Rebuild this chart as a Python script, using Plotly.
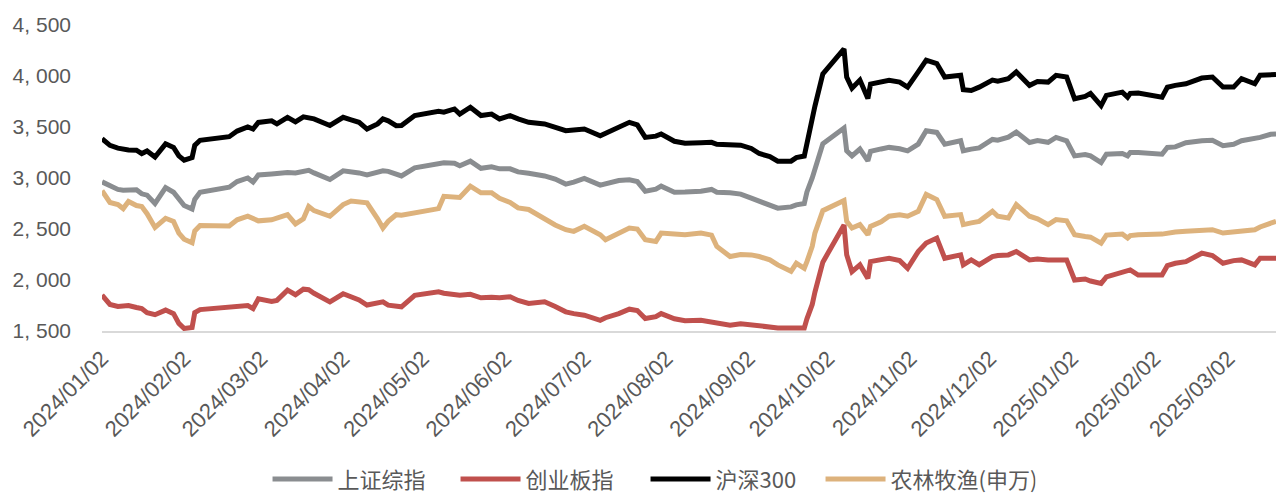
import plotly.graph_objects as go

dates = [
    "2024-01-02", "2024-01-05", "2024-01-08", "2024-01-10", "2024-01-12", "2024-01-15", "2024-01-17",
    "2024-01-19", "2024-01-22", "2024-01-26", "2024-01-29", "2024-01-31", "2024-02-02", "2024-02-05",
    "2024-02-06", "2024-02-08", "2024-02-19", "2024-02-22", "2024-02-26", "2024-02-28", "2024-03-01",
    "2024-03-06", "2024-03-08", "2024-03-12", "2024-03-15", "2024-03-18", "2024-03-20", "2024-03-22",
    "2024-03-28", "2024-04-02", "2024-04-05", "2024-04-08", "2024-04-11", "2024-04-15", "2024-04-17",
    "2024-04-19", "2024-04-22", "2024-04-24", "2024-04-29", "2024-05-08", "2024-05-10", "2024-05-14",
    "2024-05-16", "2024-05-20", "2024-05-24", "2024-05-28", "2024-05-31", "2024-06-04", "2024-06-07",
    "2024-06-11", "2024-06-17", "2024-06-21", "2024-06-25", "2024-06-28", "2024-07-02", "2024-07-08",
    "2024-07-10", "2024-07-15", "2024-07-19", "2024-07-22", "2024-07-25", "2024-07-29", "2024-07-31",
    "2024-08-05", "2024-08-09", "2024-08-15", "2024-08-19", "2024-08-21", "2024-08-26", "2024-08-30",
    "2024-09-03", "2024-09-06", "2024-09-10", "2024-09-13", "2024-09-18", "2024-09-20", "2024-09-23",
    "2024-09-24", "2024-09-26", "2024-09-27", "2024-09-30", "2024-10-08", "2024-10-09", "2024-10-11",
    "2024-10-14", "2024-10-17", "2024-10-18", "2024-10-22", "2024-10-25", "2024-10-29", "2024-11-01",
    "2024-11-05", "2024-11-08", "2024-11-12", "2024-11-15", "2024-11-21", "2024-11-22", "2024-11-25",
    "2024-11-28", "2024-12-03", "2024-12-05", "2024-12-09", "2024-12-12", "2024-12-17", "2024-12-20",
    "2024-12-24", "2024-12-27", "2024-12-31", "2025-01-03", "2025-01-07", "2025-01-09", "2025-01-13",
    "2025-01-15", "2025-01-21", "2025-01-23", "2025-01-24", "2025-01-27", "2025-02-05", "2025-02-07",
    "2025-02-10", "2025-02-14", "2025-02-20", "2025-02-24", "2025-02-28", "2025-03-04", "2025-03-07",
    "2025-03-12", "2025-03-14", "2025-03-18", "2025-03-20",
]

sse = [
    2962, 2930, 2888, 2880, 2882, 2885, 2845, 2832, 2750, 2905, 2860, 2790, 2730, 2695,
    2790, 2860, 2910, 2965, 3000, 2960, 3030, 3040, 3045, 3055, 3050, 3070, 3075, 3050,
    2985, 3070, 3065, 3050, 3030, 3055, 3070, 3065, 3045, 3020, 3100, 3140, 3150, 3145,
    3120, 3165, 3095, 3110, 3090, 3090, 3060, 3046, 3020, 2990, 2940, 2960, 2996, 2930,
    2940, 2975, 2982, 2965, 2871, 2890, 2920, 2860, 2862, 2870, 2888, 2860, 2855, 2842,
    2802, 2773, 2745, 2704, 2717, 2737, 2750, 2863, 3000, 3087, 3336, 3490, 3266, 3217,
    3284, 3168, 3261, 3285, 3300, 3286, 3266, 3332, 3464, 3447, 3332, 3365, 3267, 3283,
    3295, 3378, 3370, 3400, 3450, 3348, 3368, 3350, 3398, 3365, 3217, 3230, 3217, 3151,
    3233, 3240, 3217, 3250, 3250, 3233, 3300, 3305, 3346, 3365, 3370, 3316, 3330, 3365,
    3380, 3398, 3429, 3431,
]

chinext = [
    1852, 1760, 1740, 1745, 1750, 1730, 1720, 1680, 1660, 1705, 1670, 1575, 1525, 1535,
    1680, 1710, 1740, 1745, 1750, 1720, 1815, 1790, 1800, 1900, 1855, 1910, 1905, 1870,
    1786, 1865, 1840, 1805, 1755, 1770, 1786, 1753, 1740, 1737, 1850, 1884, 1870, 1855,
    1850, 1860, 1825, 1830, 1825, 1836, 1800, 1770, 1786, 1740, 1688, 1670, 1655, 1605,
    1630, 1671, 1714, 1700, 1622, 1640, 1671, 1620, 1600, 1605, 1590, 1575, 1556, 1572,
    1560, 1540, 1540, 1530, 1530, 1532, 1530, 1620, 1760, 1880, 2175, 2540, 2247, 2082,
    2148, 2016, 2181, 2200, 2213, 2190, 2115, 2279, 2362, 2411, 2213, 2246, 2148, 2197,
    2150, 2230, 2240, 2246, 2279, 2197, 2205, 2197, 2200, 2197, 2000, 2010, 1990, 1967,
    2030, 2080, 2090, 2099, 2049, 2049, 2140, 2164, 2180, 2263, 2240, 2164, 2190, 2197,
    2148, 2213, 2213, 2213,
]

csi300 = [
    3386, 3320, 3293, 3280, 3275, 3273, 3240, 3265, 3205, 3335, 3300, 3217, 3175, 3200,
    3320, 3370, 3405, 3460, 3500, 3480, 3545, 3560, 3530, 3595, 3550, 3600, 3590, 3580,
    3515, 3595, 3570, 3546, 3480, 3530, 3579, 3560, 3513, 3515, 3612, 3654, 3645, 3677,
    3627, 3694, 3612, 3627, 3579, 3612, 3580, 3546, 3530, 3500, 3464, 3470, 3480, 3414,
    3440, 3497, 3546, 3520, 3398, 3410, 3431, 3360, 3340, 3345, 3350, 3330, 3320, 3322,
    3290, 3240, 3210, 3165, 3165, 3200, 3215, 3351, 3628, 3703, 4020, 4265, 3990, 3880,
    3960, 3780, 3920, 3935, 3957, 3940, 3891, 4040, 4155, 4122, 3990, 4007, 3865, 3858,
    3891, 3960, 3950, 3974, 4040, 3908, 3945, 3940, 4007, 3990, 3777, 3800, 3829, 3710,
    3810, 3842, 3793, 3830, 3833, 3793, 3890, 3908, 3924, 3980, 3990, 3891, 3891, 3974,
    3924, 4007, 4020, 4015,
]

agri = [
    2875, 2760, 2740, 2700, 2770, 2730, 2720, 2650, 2515, 2605, 2575, 2460, 2400, 2365,
    2480, 2535, 2530, 2590, 2625, 2600, 2580, 2590, 2610, 2640, 2550, 2600, 2720, 2680,
    2625, 2740, 2775, 2765, 2757, 2600, 2510, 2575, 2640, 2634, 2660, 2700, 2820, 2806,
    2810, 2920, 2855, 2855, 2800, 2760, 2707, 2691, 2592, 2540, 2493, 2477, 2526, 2444,
    2395, 2460, 2510, 2500, 2395, 2378, 2460, 2450, 2444, 2460, 2440, 2329, 2230, 2250,
    2246, 2230, 2197, 2148, 2085, 2164, 2115, 2180, 2330, 2460, 2680, 2780, 2575, 2510,
    2543, 2444, 2526, 2570, 2625, 2640, 2625, 2674, 2839, 2789, 2625, 2641, 2543, 2560,
    2575, 2674, 2625, 2608, 2740, 2625, 2600, 2543, 2592, 2580, 2444, 2427, 2420, 2362,
    2440, 2450, 2411, 2435, 2444, 2450, 2460, 2470, 2477, 2485, 2493, 2460, 2470, 2480,
    2493, 2520, 2559, 2575,
]

names = ["上证综指", "创业板指", "沪深300", "农林牧渔(申万)"]
colors = ["#8A8D90", "#C0504D", "#000000", "#DDB27C"]
series = [sse, chinext, csi300, agri]
legend_text_widths = [113, 115, 100, 140]

month_ticks = [
    "2024-01-02", "2024-02-02", "2024-03-02", "2024-04-02", "2024-05-02", "2024-06-02",
    "2024-07-02", "2024-08-02", "2024-09-02", "2024-10-02", "2024-11-02", "2024-12-02",
    "2025-01-02", "2025-02-02", "2025-03-02",
]
y_ticks = [1500, 2000, 2500, 3000, 3500, 4000, 4500]

fig = go.Figure()
draw_order = [3, 0, 2, 1]
for i in draw_order:
    fig.add_trace(go.Scatter(
        x=dates, y=series[i], name=names[i], mode="lines",
        line=dict(color=colors[i], width=5),
        legendrank=i + 1, legendwidth=legend_text_widths[i],
    ))

fig.update_layout(
    width=1276, height=496,
    margin=dict(l=102, r=0, t=25, b=165, autoexpand=False),
    plot_bgcolor="white", paper_bgcolor="white",
    font=dict(family="Liberation Sans, Arial, sans-serif", color="#595959", size=18),
    showlegend=True,
    legend=dict(
        orientation="h", x=0.141, xanchor="left", y=-0.553, yanchor="bottom",
        font=dict(family="Noto Sans CJK SC, sans-serif", size=22, color="#595959"),
        itemwidth=60, traceorder="normal", borderwidth=0,
        bgcolor="rgba(0,0,0,0)",
    ),
    xaxis=dict(
        type="date", range=["2024-01-02", "2025-03-20"],
        tickvals=month_ticks, tickformat="%Y/%m/%d", tickangle=-45,
        tickfont=dict(size=22, color="#595959"),
        showgrid=False, zeroline=False, automargin=False,
        showline=True, linecolor="#D9D9D9", linewidth=2,
        ticks="", ticklabelstandoff=4,
    ),
    yaxis=dict(
        range=[1500, 4500], tickvals=y_ticks,
        ticktext=[f"{v:,}".replace(",", ", ") for v in y_ticks],
        tickfont=dict(size=21, color="#595959"),
        showgrid=False, zeroline=False, showline=False, automargin=False,
        ticks="", ticklabelstandoff=30,
    ),
)

fig.write_html(
    "out.html",
    config={"displayModeBar": False},
    post_script="document.body.style.margin='0';document.body.style.overflow='hidden';",
)
